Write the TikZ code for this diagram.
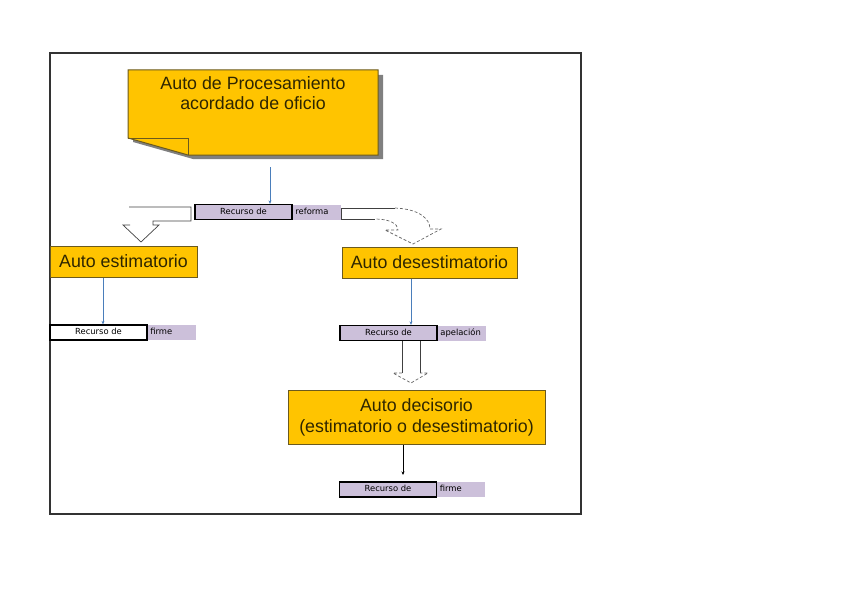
\documentclass[tikz,border=0pt]{standalone}
\usepackage{fontspec}
\setmainfont{Liberation Sans}
\newfontfamily\smallfont{DejaVu Sans}
\usetikzlibrary{arrows.meta}
\definecolor{autoyellow}{HTML}{FFC400}
\definecolor{autoborder}{HTML}{6B5A1E}
\definecolor{lav}{HTML}{CCC0DA}
\definecolor{linkblue}{HTML}{4A7EBB}
\definecolor{txt}{HTML}{2E2600}
\begin{document}
\begin{tikzpicture}[x=1pt,y=-1pt,
  autobox/.style={draw=autoborder, line width=1pt, fill=autoyellow, text=txt,
    font=\fontsize{17.8}{20}\selectfont, inner sep=0pt, align=center},
  recbox/.style={draw=black, line width=1.3pt, fill=lav,
    font=\smallfont\fontsize{8.4}{10}\selectfont, inner sep=0pt,
    text height=6.5pt, text depth=2pt,
    minimum width=97pt, minimum height=15pt},
  reclabel/.style={fill=lav, font=\smallfont\fontsize{8.4}{10}\selectfont,
    inner sep=0pt, text height=6.5pt, text depth=2pt,
    minimum width=48pt, minimum height=15pt, text width=46pt, align=left},
  link/.style={draw=linkblue, line width=0.6pt, -{Stealth[length=3.5pt,width=3pt]}},
  blockline/.style={draw=black!75, line width=0.7pt},
  dashline/.style={draw=black!60, line width=0.7pt, densely dashed}]
\useasboundingbox (0,0) rectangle (848,599);
% frame
\draw[line width=1.3pt, draw=black!80] (50,53) rectangle (581,514);

% top note shape
\fill[black!50] (133,75) -- (383,75) -- (383,159) -- (193,159) -- (133,142) -- cycle;
\draw[autobox] (128,70) -- (378,70) -- (378,155) -- (188,155) -- (128,138) -- cycle;
\draw[autoborder, line width=1pt] (128,138) -- (188,138) -- (188,155);
\node[text=txt, font=\fontsize{17.8}{19.5}\selectfont, align=center] (top) at (253,93)
  {Auto de Procesamiento\\acordado de oficio};
\coordinate (topout) at (270,167);

% recurso de reforma
\node[recbox] (r1) at (243.5,212) {Recurso de};
\node[reclabel, anchor=west] (l1) at (r1.east) {\hspace{1.5pt}reforma};
\draw[link] (topout) -- (topout |- r1.north);

% left bent block arrow
\draw[blockline] (129,207) -- (191,207) -- (191,221) -- (153,221) -- (153,225)
  -- (159,225) -- (141,242) -- (123,225) -- (130,225);
% right bent block arrow
\draw[blockline] (395,208) -- (341,208) -- (341,219) -- (375,219);
\draw[dashline] (395,208) .. controls (418,209) and (430,218) .. (430,229)
  -- (441,229) -- (413,244) -- (385,230) -- (398,230)
  .. controls (398,224) and (390,219) .. (375,219);

% auto estimatorio / desestimatorio
\node[autobox, minimum width=147pt, minimum height=31pt] (ae) at (123.5,261.5) {Auto estimatorio};
\node[autobox, minimum width=175pt, minimum height=31pt] (ad) at (429.5,262.5) {Auto desestimatorio};

% recurso de firme (left)
\node[recbox, fill=white] (r2) at (98.5,332.5) {Recurso de};
\node[reclabel, anchor=west] (l2) at (r2.east) {\hspace{1.5pt}firme};
\coordinate (c1) at (103,0);
\draw[link] (ae.south -| c1) -- (r2.north -| c1);

% recurso de apelacion
\node[recbox] (r3) at (388.5,333) {Recurso de};
\node[reclabel, anchor=west] (l3) at (r3.east) {\hspace{1.5pt}apelación};
\coordinate (c2) at (411,0);
\draw[link] (ad.south -| c2) -- (r3.north -| c2);

% down block arrow
\draw[blockline] (402,341) -- (402,373) (420,341) -- (420,373);
\draw[dashline] (402,373) -- (393,373) -- (411,383) -- (428,373) -- (420,373);

% auto decisorio
\node[autobox, minimum width=257pt, minimum height=54pt, font=\fontsize{17.8}{21}\selectfont]
  (dec) at (416.5,417) {Auto decisorio\\(estimatorio o desestimatorio)};

% recurso de firme (bottom)
\node[recbox] (r4) at (388,489.5) {Recurso de};
\node[reclabel, anchor=west] (l4) at (r4.east) {\hspace{1.5pt}firme};
\coordinate (c3) at (403,0);
\coordinate (c3end) at (403,475);
\draw[black, line width=0.6pt, -{Stealth[length=3.5pt,width=3pt]}] (dec.south -| c3) -- (c3end);
\end{tikzpicture}
\end{document}
